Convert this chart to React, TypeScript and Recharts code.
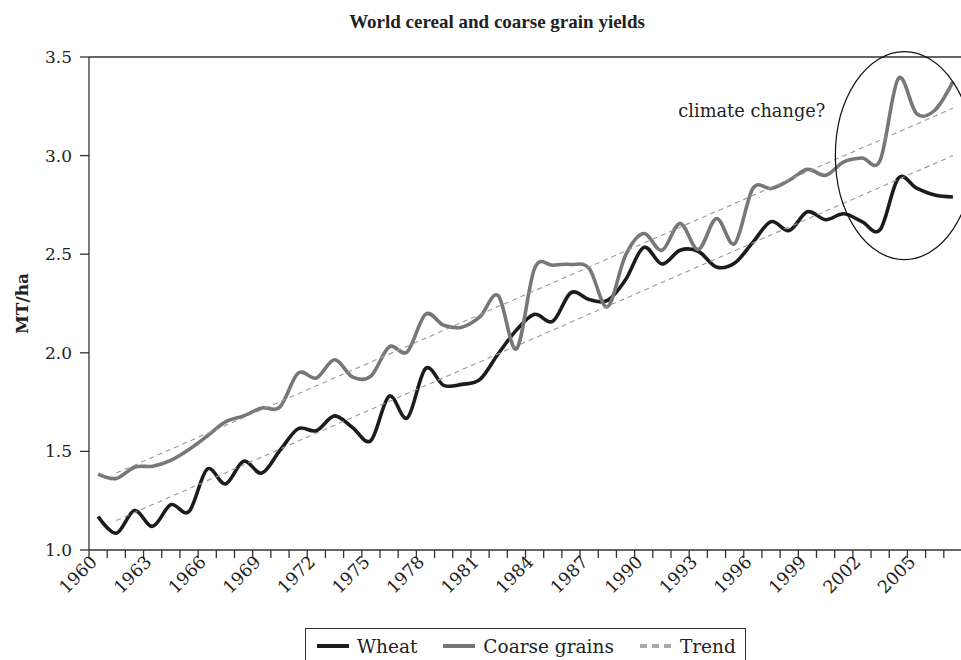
import React from "react";
import {
  LineChart,
  Line,
  XAxis,
  YAxis,
  Legend,
  ReferenceLine,
  ReferenceDot,
} from "recharts";

// world yields, MT/ha
const years = [
  1960, 1961, 1962, 1963, 1964, 1965, 1966, 1967, 1968, 1969,
  1970, 1971, 1972, 1973, 1974, 1975, 1976, 1977, 1978, 1979,
  1980, 1981, 1982, 1983, 1984, 1985, 1986, 1987, 1988, 1989,
  1990, 1991, 1992, 1993, 1994, 1995, 1996, 1997, 1998, 1999,
  2000, 2001, 2002, 2003, 2004, 2005, 2006, 2007,
];

const wheat = [
  1.17, 1.085, 1.2, 1.12, 1.23, 1.195, 1.41, 1.335, 1.45, 1.39,
  1.505, 1.615, 1.605, 1.68, 1.62, 1.555, 1.78, 1.67, 1.92, 1.835,
  1.84, 1.865, 1.995, 2.115, 2.195, 2.16, 2.305, 2.27, 2.265, 2.37,
  2.535, 2.45, 2.52, 2.515, 2.435, 2.455, 2.56, 2.665, 2.62, 2.715,
  2.675, 2.705, 2.665, 2.625, 2.885, 2.835, 2.8, 2.79,
];

const coarseGrains = [
  1.385, 1.363, 1.42, 1.425, 1.455, 1.51, 1.578, 1.65, 1.68, 1.72,
  1.726, 1.897, 1.872, 1.965, 1.877, 1.882, 2.03, 2.005, 2.195, 2.14,
  2.13, 2.183, 2.29, 2.02, 2.428, 2.444, 2.448, 2.428, 2.233, 2.495,
  2.605, 2.52, 2.656, 2.524, 2.681, 2.554, 2.833, 2.833, 2.875, 2.93,
  2.9, 2.968, 2.988, 2.977, 3.391, 3.213, 3.23, 3.374,
];

// linear trends, drawn between their end years
const trendYears = [1961, 2007];
const wheatTrend = [1.15, 3.0];
const coarseTrend = [1.39, 3.24];

const yTicks = [1.0, 1.5, 2.0, 2.5, 3.0, 3.5];

const data = years.map((year, i) => {
  const t = trendYears.indexOf(year);
  return {
    year,
    wheat: wheat[i],
    coarse: coarseGrains[i],
    wheatTrend: t >= 0 ? wheatTrend[t] : null,
    coarseTrend: t >= 0 ? coarseTrend[t] : null,
  };
});

const W = 962;
const H = 660;
const LEFT = 89;
const BAND = (W - LEFT) / years.length;
const TEXT = "#222";
const AXIS = "#333";
const FONT = "'DejaVu Serif', serif";

// Excel-style smoothing: Catmull-Rom through every point
const smooth = (context: any) => {
  let x0 = NaN, y0 = NaN, x1 = NaN, y1 = NaN, x2 = NaN, y2 = NaN;
  let n = 0;
  let area = NaN;
  const k = 1 / 6;
  const seg = (x: number, y: number) => {
    context.bezierCurveTo(
      x1 + k * (x2 - x0),
      y1 + k * (y2 - y0),
      x2 + k * (x1 - x),
      y2 + k * (y1 - y),
      x2,
      y2
    );
  };
  return {
    areaStart() { area = 0; },
    areaEnd() { area = NaN; },
    lineStart() { x0 = x1 = x2 = y0 = y1 = y2 = NaN; n = 0; },
    lineEnd() {
      if (n === 2) context.lineTo(x2, y2);
      else if (n === 3) seg(x1, y1);
      if (area || (area !== 0 && n === 1)) context.closePath();
      area = 1 - area;
    },
    point(x: number, y: number) {
      if (n === 0) {
        n = 1;
        if (area) context.lineTo(x, y);
        else context.moveTo(x, y);
      } else if (n === 1) {
        n = 2;
        x1 = x;
        y1 = y;
      } else {
        n = 3;
        seg(x, y);
      }
      x0 = x1; x1 = x2; x2 = x;
      y0 = y1; y1 = y2; y2 = y;
    },
  };
};

const YearTick = (props: any) => {
  const { x, y, payload, index } = props;
  const lx = x;
  const ly = y + 13;
  return (
    <g>
      <line x1={x - BAND / 2} x2={x - BAND / 2} y1={y} y2={y + 8} stroke={AXIS} strokeWidth={1.3} />
      {index % 3 === 0 && (
        <text
          x={lx}
          y={ly}
          textAnchor="end"
          transform={`rotate(-45, ${lx}, ${ly})`}
          fontSize={17.5}
          fill={TEXT}
          fontFamily={FONT}
        >
          {payload.value}
        </text>
      )}
    </g>
  );
};

const AxisTitle = (props: any) => {
  const { viewBox } = props;
  const x = viewBox.x + 28;
  const y = viewBox.y + viewBox.height / 2;
  return (
    <text
      x={x}
      y={y}
      transform={`rotate(-90, ${x}, ${y})`}
      textAnchor="middle"
      fontSize={17}
      fontWeight="bold"
      fill={TEXT}
      fontFamily={FONT}
    >
      MT/ha
    </text>
  );
};

// circled note around the last few years
const ClimateNote = (props: any) => {
  const cx = props.cx + 6;
  const cy = props.cy;
  return (
    <g>
      <ellipse cx={cx} cy={cy} rx={69} ry={104} fill="none" stroke="#111" strokeWidth={1.2} />
      <text x={cx - 79} y={cy - 39} textAnchor="end" fontSize={17.8} fill={TEXT} fontFamily={FONT}>
        climate change?
      </text>
    </g>
  );
};

const legendItems = [
  { label: "Wheat", color: "#1c1c1c", dash: undefined },
  { label: "Coarse grains", color: "#777", dash: undefined },
  { label: "Trend", color: "#aaa", dash: "7 5" },
];

const LegendBox = () => (
  <div
    style={{
      border: `1.3px solid ${AXIS}`,
      boxSizing: "border-box",
      height: 44,
      display: "flex",
      alignItems: "center",
      paddingLeft: 11,
      paddingBottom: 8,
      fontFamily: FONT,
      fontSize: 18.5,
      color: TEXT,
      whiteSpace: "nowrap",
    }}
  >
    {legendItems.map((it) => (
      <div
        key={it.label}
        style={{ display: "flex", alignItems: "center", marginRight: 26, flexShrink: 0 }}
      >
        <svg width={32} height={10} style={{ marginRight: 8 }}>
          <line x1={0} x2={32} y1={5} y2={5} stroke={it.color} strokeWidth={4} strokeDasharray={it.dash} />
        </svg>
        <span>{it.label}</span>
      </div>
    ))}
  </div>
);

export default function App() {
  return (
    <div
      style={{
        position: "fixed",
        left: 0,
        top: 0,
        width: 961,
        height: H,
        overflow: "hidden",
        background: "#fff",
        fontFamily: FONT,
      }}
    >
      <div
        style={{
          position: "absolute",
          left: 0,
          width: 994,
          top: 11,
          textAlign: "center",
          fontSize: 19,
          fontWeight: "bold",
          fontFamily: "'Liberation Serif', serif",
          color: TEXT,
          zIndex: 2,
        }}
      >
        World cereal and coarse grain yields
      </div>
      <LineChart width={W} height={H} data={data} margin={{ top: 57, right: 0, bottom: 0, left: 0 }}>
        <XAxis
          dataKey="year"
          scale="band"
          interval={0}
          height={110}
          tickSize={0}
          tickMargin={0}
          tickLine={false}
          axisLine={{ stroke: AXIS, strokeWidth: 1.3 }}
          tick={YearTick}
        />
        <YAxis
          width={LEFT}
          domain={[1, 3.5]}
          ticks={yTicks}
          tickFormatter={(v: number) => v.toFixed(1)}
          tickSize={9}
          tickMargin={8}
          axisLine={{ stroke: AXIS, strokeWidth: 1.3 }}
          tickLine={{ stroke: AXIS, strokeWidth: 1.3 }}
          tick={{ fill: TEXT, fontSize: 17, fontFamily: FONT }}
          label={{ content: AxisTitle }}
        />
        <ReferenceLine y={3.5} stroke={AXIS} strokeWidth={1.3} />
        <Legend
          layout="horizontal"
          verticalAlign="middle"
          align="center"
          wrapperStyle={{ left: 305, top: 628, width: 441 }}
          content={LegendBox}
        />
        <Line
          dataKey="wheat"
          name="Wheat"
          type={smooth as any}
          stroke="#1c1c1c"
          strokeWidth={3.6}
          dot={false}
          isAnimationActive={false}
        />
        <Line
          dataKey="coarse"
          name="Coarse grains"
          type={smooth as any}
          stroke="#777"
          strokeWidth={3.6}
          dot={false}
          isAnimationActive={false}
        />
        <Line
          dataKey="wheatTrend"
          name="Trend"
          type="linear"
          connectNulls
          stroke="#999"
          strokeWidth={1.1}
          strokeDasharray="5 4"
          dot={false}
          isAnimationActive={false}
        />
        <Line
          dataKey="coarseTrend"
          name="Trend"
          type="linear"
          connectNulls
          stroke="#999"
          strokeWidth={1.1}
          strokeDasharray="5 4"
          dot={false}
          isAnimationActive={false}
          legendType="none"
        />
        <ReferenceDot x={2004} y={3.0} r={0} ifOverflow="visible" shape={ClimateNote} />
      </LineChart>
    </div>
  );
}
